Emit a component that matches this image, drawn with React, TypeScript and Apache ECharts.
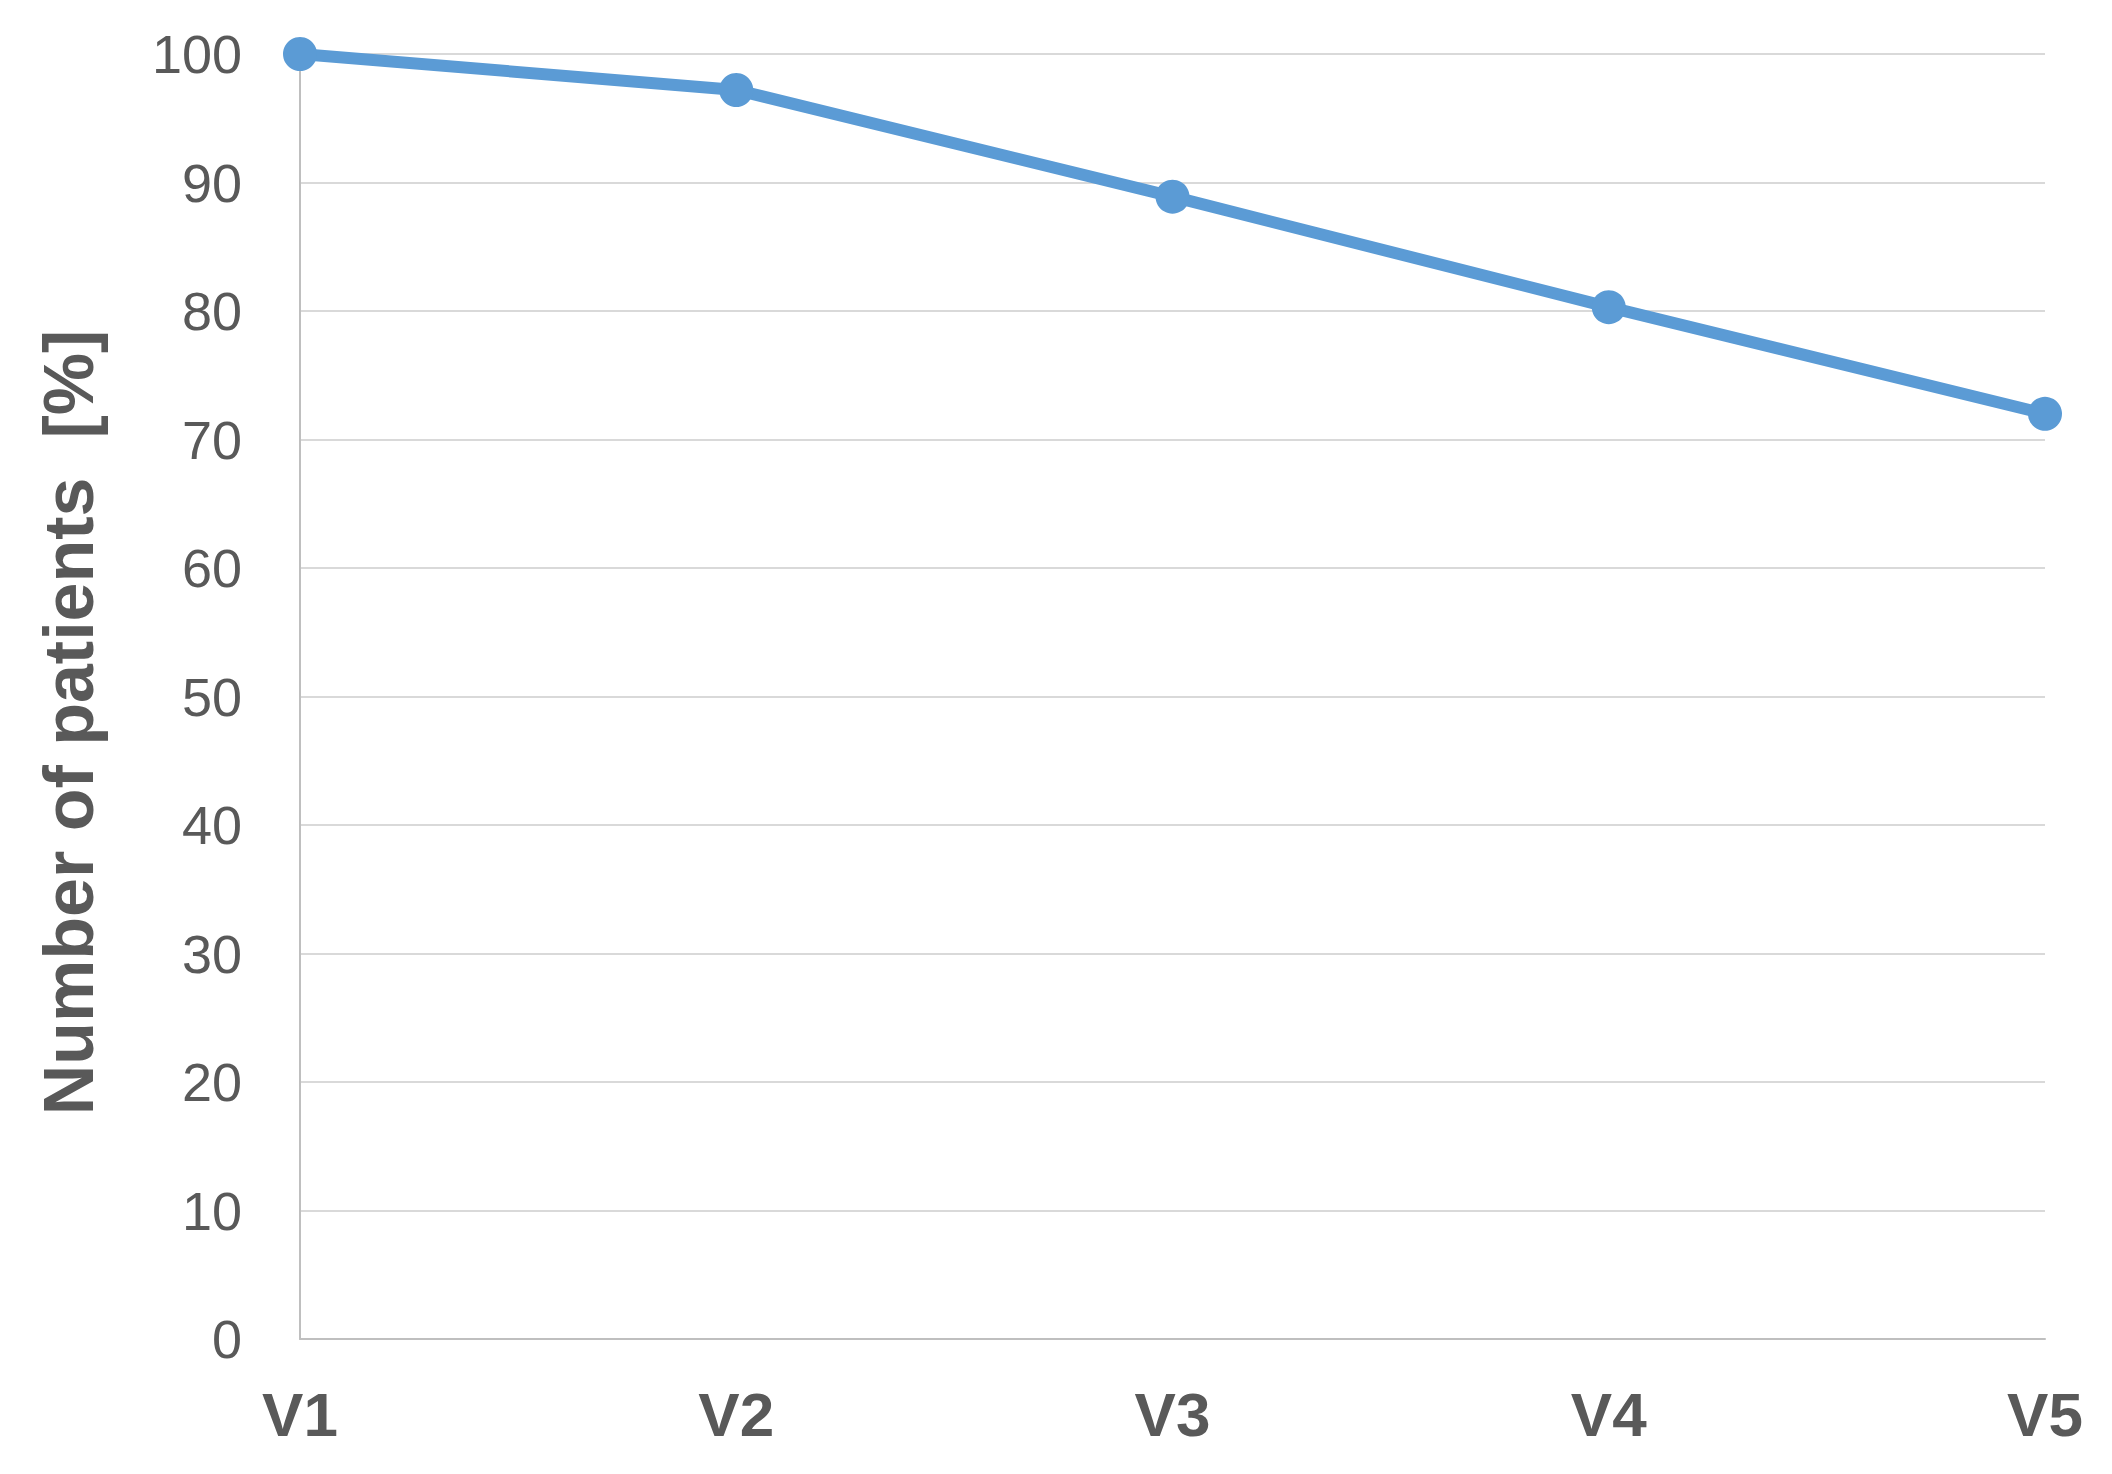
import React, { useEffect, useRef } from "react";
import * as echarts from "echarts";

const categories = ["V1", "V2", "V3", "V4", "V5"];
const patientsPct = [100, 97.2, 88.9, 80.3, 72.0];
const yTicks = { min: 0, max: 100, interval: 10 };
const yTitle = "Number of patients  [%]";

export default function App() {
  const ref = useRef<HTMLDivElement>(null);
  useEffect(() => {
    if (!ref.current) return;
    const chart = echarts.init(ref.current, undefined, { renderer: "svg" });
    chart.setOption({
      animation: false,
      backgroundColor: "#ffffff",
      grid: { left: 300, right: 67, top: 54, bottom: 135, containLabel: false },
      xAxis: {
        type: "category",
        data: categories,
        boundaryGap: false,
        axisLine: { show: true, lineStyle: { color: "#BFBFBF", width: 2 } },
        axisTick: { show: false },
        axisLabel: {
          color: "#595959",
          fontFamily: "Liberation Sans, Arial, sans-serif",
          fontWeight: "bold",
          fontSize: 62,
          margin: 44,
        },
        splitLine: { show: false },
      },
      yAxis: {
        type: "value",
        min: yTicks.min,
        max: yTicks.max,
        interval: yTicks.interval,
        name: yTitle,
        nameLocation: "middle",
        nameGap: 196,
        nameTextStyle: {
          color: "#595959",
          fontFamily: "Liberation Sans, Arial, sans-serif",
          fontWeight: "bold",
          fontSize: 70,
          padding: [0, 52, 0, 0],
        },
        axisLine: { show: true, lineStyle: { color: "#BFBFBF", width: 2 } },
        axisTick: { show: false },
        axisLabel: {
          color: "#595959",
          fontFamily: "Liberation Sans, Arial, sans-serif",
          fontSize: 54,
          margin: 58,
        },
        splitLine: { show: true, lineStyle: { color: "#D9D9D9", width: 2 } },
      },
      series: [
        {
          type: "line",
          data: patientsPct,
          symbol: "circle",
          symbolSize: 34,
          lineStyle: { color: "#5B9BD5", width: 12 },
          itemStyle: { color: "#5B9BD5" },
        },
      ],
    });
    return () => chart.dispose();
  }, []);
  return (
    <div
      ref={ref}
      style={{ position: "absolute", left: 0, top: 0, width: 2112, height: 1474 }}
    />
  );
}
